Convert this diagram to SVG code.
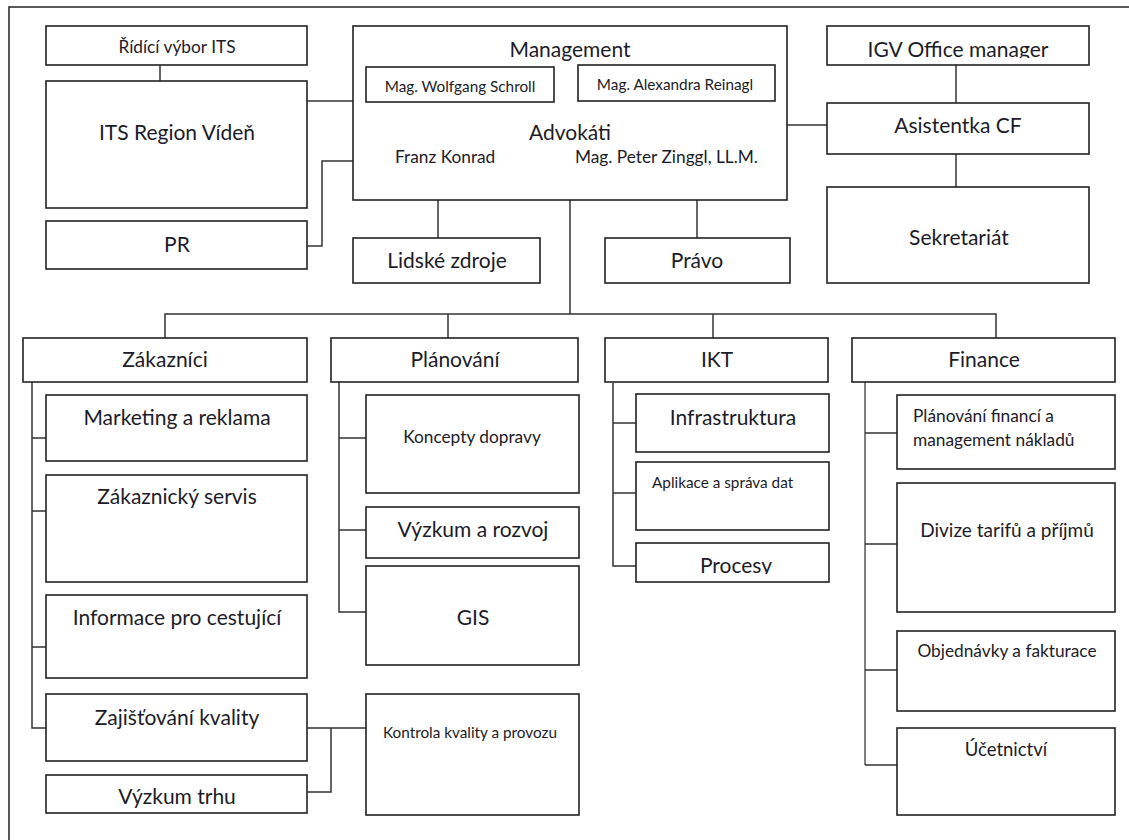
<svg xmlns="http://www.w3.org/2000/svg" width="1129" height="840" viewBox="0 0 1129 840">
  <style>
    .box { fill: #ffffff; stroke: #222222; stroke-width: 1.6; }
    .wire { fill: none; stroke: #333333; stroke-width: 1.5; }
    .wire-lt { fill: none; stroke: #555555; stroke-width: 1.5; }
    text { font-family: Lato, "Open Sans", "Liberation Sans", sans-serif; fill: #1c1c28; }
    .xl { font-size: 21px; }
    .md { font-size: 17.3px; }
    .sm { font-size: 15.3px; }
    .c { text-anchor: middle; }
  </style>
  <defs>
    <clipPath id="clip-igv"><rect x="827" y="26" width="262" height="32"/></clipPath>
    <clipPath id="clip-procesy"><rect x="636" y="543" width="193" height="31"/></clipPath>
  </defs>

  <rect x="0" y="0" width="1129" height="840" fill="#ffffff"/>
  <!-- page frame -->
  <path d="M9,840 V7 H1129" fill="none" stroke="#222222" stroke-width="1.5"/>

  <g id="connectors">
    <!-- left cluster -->
    <path class="wire" d="M160,65 V81"/>
    <path class="wire" d="M307,101 H353"/>
    <path class="wire" d="M307,246 H322 V161 H353"/>
    <!-- management downward -->
    <path class="wire" d="M438,200 V238"/>
    <path class="wire" d="M697,200 V238"/>
    <path class="wire" d="M570,200 V314"/>
    <!-- right cluster -->
    <path class="wire" d="M787,125 H827"/>
    <path class="wire" d="M956,65 V103"/>
    <path class="wire" d="M956,154 V187"/>
    <!-- division bus -->
    <path class="wire" d="M165,338 V314 H996 V338"/>
    <path class="wire" d="M448,314 V338"/>
    <path class="wire" d="M713,314 V338"/>
    <!-- Zákazníci -->
    <path class="wire" d="M32,382 V728 H46"/>
    <path class="wire" d="M32,438 H46 M32,511 H46 M32,647 H46"/>
    <path class="wire" d="M307,728 H366 M331,728 V792 H307"/>
    <!-- Plánování -->
    <path class="wire" d="M339,382 V612 H366"/>
    <path class="wire" d="M339,438 H366 M339,530 H366"/>
    <!-- IKT -->
    <path class="wire" d="M613,383 V566 H636"/>
    <path class="wire" d="M613,423 H636 M613,493 H636"/>
    <!-- Finance -->
    <path class="wire-lt" d="M865,382 V765"/>
    <path class="wire" d="M865,433 H899 M865,544 H899 M865,670 H899 M865,765 H899"/>
  </g>

  <g id="ridici-vybor">
    <rect class="box" x="46" y="26" width="261" height="39"/>
    <text class="md c" x="177" y="53">Řídící výbor ITS</text>
  </g>
  <g id="its-region">
    <rect class="box" x="46" y="81" width="261" height="127"/>
    <text class="xl c" x="177" y="140">ITS Region Vídeň</text>
  </g>
  <g id="pr">
    <rect class="box" x="46" y="221" width="261" height="48"/>
    <text class="xl c" x="177" y="252">PR</text>
  </g>

  <g id="management">
    <rect class="box" x="353" y="26" width="434" height="174"/>
    <text class="xl c" x="570" y="57">Management</text>
    <rect class="box" x="366" y="67" width="188" height="35"/>
    <text class="sm c" x="460" y="92">Mag. Wolfgang Schroll</text>
    <rect class="box" x="578" y="65" width="197" height="36"/>
    <text class="sm c" x="675" y="90">Mag. Alexandra Reinagl</text>
    <text class="xl c" x="570" y="140">Advokáti</text>
    <text class="md" x="395" y="163">Franz Konrad</text>
    <text class="md" x="575" y="163">Mag. Peter Zinggl, LL.M.</text>
  </g>
  <g id="lidske-zdroje">
    <rect class="box" x="353" y="238" width="187" height="45"/>
    <text class="xl c" x="447" y="268">Lidské zdroje</text>
  </g>
  <g id="pravo">
    <rect class="box" x="605" y="238" width="185" height="45"/>
    <text class="xl c" x="697" y="268">Právo</text>
  </g>

  <g id="igv-office">
    <rect class="box" x="827" y="26" width="262" height="39"/>
    <text class="xl c" x="958" y="57" clip-path="url(#clip-igv)">IGV Office manager</text>
  </g>
  <g id="asistentka">
    <rect class="box" x="827" y="103" width="262" height="51"/>
    <text class="xl c" x="958" y="133">Asistentka CF</text>
  </g>
  <g id="sekretariat">
    <rect class="box" x="827" y="187" width="262" height="96"/>
    <text class="xl c" x="959" y="245">Sekretariát</text>
  </g>

  <g id="zakaznici">
    <rect class="box" x="23" y="338" width="284" height="44"/>
    <text class="xl c" x="165" y="367">Zákazníci</text>
  </g>
  <g id="marketing">
    <rect class="box" x="46" y="395" width="261" height="66"/>
    <text class="xl c" x="177" y="425">Marketing a reklama</text>
  </g>
  <g id="zakaznicky-servis">
    <rect class="box" x="46" y="475" width="261" height="107"/>
    <text class="xl c" x="177" y="504">Zákaznický servis</text>
  </g>
  <g id="informace">
    <rect class="box" x="46" y="595" width="261" height="83"/>
    <text class="xl c" x="177" y="625">Informace pro cestující</text>
  </g>
  <g id="zajistovani-kvality">
    <rect class="box" x="46" y="694" width="261" height="67"/>
    <text class="xl c" x="177" y="725">Zajišťování kvality</text>
  </g>
  <g id="vyzkum-trhu">
    <rect class="box" x="46" y="775" width="261" height="38"/>
    <text class="xl c" x="177" y="804">Výzkum trhu</text>
  </g>

  <g id="planovani">
    <rect class="box" x="331" y="338" width="247" height="44"/>
    <text class="xl c" x="455" y="367">Plánování</text>
  </g>
  <g id="koncepty-dopravy">
    <rect class="box" x="366" y="395" width="213" height="98"/>
    <text class="md c" x="472" y="443">Koncepty dopravy</text>
  </g>
  <g id="vyzkum-rozvoj">
    <rect class="box" x="366" y="507" width="213" height="51"/>
    <text class="xl c" x="473" y="537">Výzkum a rozvoj</text>
  </g>
  <g id="gis">
    <rect class="box" x="366" y="566" width="213" height="99"/>
    <text class="xl c" x="473" y="625">GIS</text>
  </g>
  <g id="kontrola-kvality">
    <rect class="box" x="366" y="694" width="213" height="121"/>
    <text class="sm c" x="470" y="738">Kontrola kvality a provozu</text>
  </g>

  <g id="ikt">
    <rect class="box" x="605" y="338" width="223" height="44"/>
    <text class="xl c" x="717" y="367">IKT</text>
  </g>
  <g id="infrastruktura">
    <rect class="box" x="636" y="394" width="193" height="58"/>
    <text class="xl c" x="733" y="425">Infrastruktura</text>
  </g>
  <g id="aplikace">
    <rect class="box" x="636" y="462" width="193" height="68"/>
    <text class="sm" x="652" y="488">Aplikace a správa dat</text>
  </g>
  <g id="procesy">
    <rect class="box" x="636" y="543" width="193" height="39"/>
    <text class="xl c" x="736" y="573" clip-path="url(#clip-procesy)">Procesy</text>
  </g>

  <g id="finance">
    <rect class="box" x="852" y="338" width="263" height="44"/>
    <text class="xl c" x="984" y="367">Finance</text>
  </g>
  <g id="planovani-financi">
    <rect class="box" x="897" y="395" width="218" height="74"/>
    <text class="md" x="913" y="422">Plánování financí a</text>
    <text class="md" x="913" y="446">management nákladů</text>
  </g>
  <g id="divize-tarifu">
    <rect class="box" x="897" y="483" width="218" height="129"/>
    <text class="md c" x="1007" y="537" style="font-size:19px">Divize tarifů a příjmů</text>
  </g>
  <g id="objednavky">
    <rect class="box" x="897" y="631" width="218" height="80"/>
    <text class="md c" x="1007" y="657">Objednávky a fakturace</text>
  </g>
  <g id="ucetnictvi">
    <rect class="box" x="897" y="728" width="218" height="87"/>
    <text class="md c" x="1006" y="756" style="font-size:18.5px">Účetnictví</text>
  </g>
</svg>
